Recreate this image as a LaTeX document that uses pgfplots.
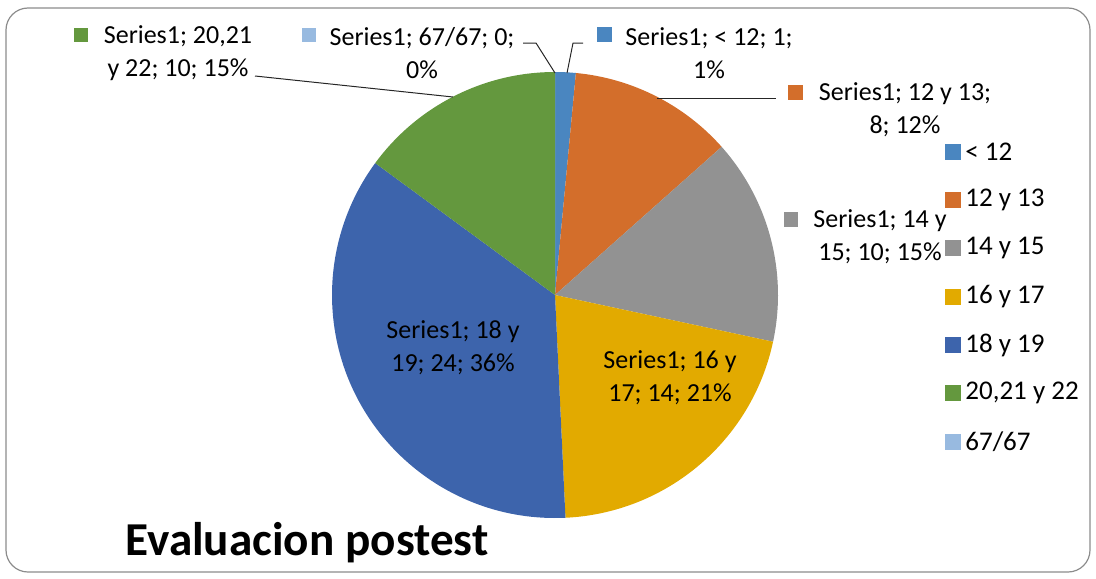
\documentclass[border=0pt]{standalone}
\usepackage{pgfplots}
\pgfplotsset{compat=1.18}
\usepackage{pgfplotstable}
\usepackage{fontspec}
\setmainfont{Carlito}
\definecolor{cA}{RGB}{74,134,192}
\definecolor{cB}{RGB}{211,110,43}
\definecolor{cC}{RGB}{146,146,146}
\definecolor{cD}{RGB}{226,170,0}
\definecolor{cE}{RGB}{61,100,172}
\definecolor{cF}{RGB}{100,152,62}
\definecolor{cG}{RGB}{152,186,224}

\pgfplotstableread{
idx val col
0 1 cA
1 8 cB
2 10 cC
3 14 cD
4 24 cE
5 10 cF
6 0 cG
}\piedata

\newcommand\lbl{\fontsize{13}{16.5}\selectfont}
\newcommand\leg{\fontsize{13.5}{15}\selectfont}

\begin{document}
\begin{tikzpicture}
\begin{axis}[width=548pt,height=289pt,scale only axis,
  xmin=0,xmax=1096,ymin=0,ymax=578,y dir=reverse,hide axis,clip=false]
\path (axis cs:0,0) rectangle (axis cs:1096,578);
% border
\draw[line width=0.6pt, color=black!45, rounded corners=11pt] (axis cs:6,8) rectangle (axis cs:1090,572);
% total
\pgfplotstablegetrowsof{\piedata}\let\nrows\pgfplotsretval
\pgfmathtruncatemacro\lastrow{\nrows-1}
\def\total{0}
\pgfplotsforeachungrouped \i in {0,...,\lastrow}{%
  \pgfplotstablegetelem{\i}{val}\of\piedata
  \pgfmathsetmacro\total{\total+\pgfplotsretval}%
}
% slices
\def\cum{0}
\pgfplotsforeachungrouped \i in {0,...,\lastrow}{%
  \pgfplotstablegetelem{\i}{val}\of\piedata \let\sliceval\pgfplotsretval
  \pgfplotstablegetelem{\i}{col}\of\piedata \let\slicecol\pgfplotsretval
  \pgfmathsetmacro\sa{90-(360/\total)*\cum}%
  \pgfmathsetmacro\cum{\cum+\sliceval}%
  \pgfmathsetmacro\ea{90-(360/\total)*\cum}%
  \edef\temp{\noexpand\fill[\slicecol] (axis cs:555,295) -- ([shift={(\sa:111.5pt)}]axis cs:555,295) arc[start angle=\sa, end angle=\ea, radius=111.5pt] -- cycle;}%
  \temp
}
% leader lines
\draw[black!85, line width=0.5pt] (axis cs:255,76) -- (axis cs:453,97);
\draw[black!85, line width=0.5pt] (axis cs:523,43) -- (axis cs:536,43) -- (axis cs:555,73);
\draw[black!85, line width=0.5pt] (axis cs:567,73) -- (axis cs:573,43) -- (axis cs:583,43);
\draw[black!85, line width=0.5pt] (axis cs:657,98) -- (axis cs:776,98);
% data labels
\fill[cF] (axis cs:74,28) rectangle (axis cs:87.5,42);
\node[align=center, font=\lbl, inner sep=0pt] at (axis cs:178,53) {Series1; 20,21\\y 22; 10; 15\%};
\fill[cG] (axis cs:302,28) rectangle (axis cs:316,42);
\node[align=center, font=\lbl, inner sep=0pt] at (axis cs:422,53) {Series1; 67/67; 0;\\0\%};
\fill[cA] (axis cs:597,27) rectangle (axis cs:612,42);
\node[align=center, font=\lbl, inner sep=0pt] at (axis cs:709,53) {Series1; < 12; 1;\\1\%};
\fill[cB] (axis cs:788,85) rectangle (axis cs:803,100);
\node[align=center, font=\lbl, inner sep=0pt] at (axis cs:905,110) {Series1; 12 y 13;\\8; 12\%};
\fill[cC] (axis cs:784,212) rectangle (axis cs:798,227);
\node[align=center, font=\lbl, inner sep=0pt] at (axis cs:880,237) {Series1; 14 y\\15; 10; 15\%};
\node[align=center, font=\lbl, inner sep=0pt] at (axis cs:670,378) {Series1; 16 y\\17; 14; 21\%};
\node[align=center, font=\lbl, inner sep=0pt] at (axis cs:453,348) {Series1; 18 y\\19; 24; 36\%};
% legend
\fill[cA] (axis cs:945,144) rectangle (axis cs:961,160);
\node[anchor=west, font=\leg, inner sep=0pt] at (axis cs:965,152) {< 12};
\fill[cB] (axis cs:945,192) rectangle (axis cs:961,208);
\node[anchor=west, font=\leg, inner sep=0pt] at (axis cs:965,200) {12 y 13};
\fill[cC] (axis cs:945,240) rectangle (axis cs:961,256);
\node[anchor=west, font=\leg, inner sep=0pt] at (axis cs:965,248) {14 y 15};
\fill[cD] (axis cs:945,289) rectangle (axis cs:961,305);
\node[anchor=west, font=\leg, inner sep=0pt] at (axis cs:965,297) {16 y 17};
\fill[cE] (axis cs:945,337) rectangle (axis cs:961,353);
\node[anchor=west, font=\leg, inner sep=0pt] at (axis cs:965,345) {18 y 19};
\fill[cF] (axis cs:945,385) rectangle (axis cs:961,401);
\node[anchor=west, font=\leg, inner sep=0pt] at (axis cs:965,393) {20,21 y 22};
\fill[cG] (axis cs:945,434) rectangle (axis cs:961,450);
\node[anchor=west, font=\leg, inner sep=0pt] at (axis cs:965,442) {67/67};
% title
\node[anchor=base, font=\fontsize{23.6}{27}\selectfont\bfseries, inner sep=0pt] at (axis cs:307,555) {Evaluacion postest};
\end{axis}
\end{tikzpicture}
\end{document}
